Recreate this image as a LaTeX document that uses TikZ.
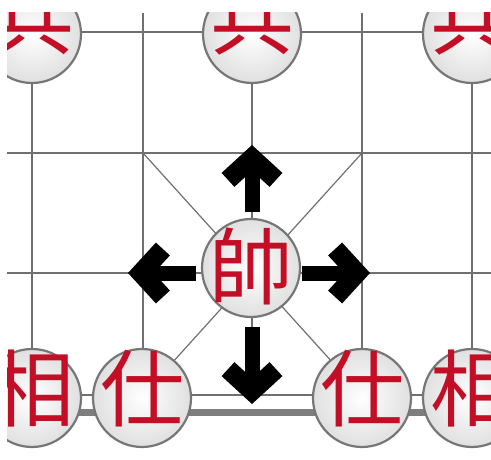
\documentclass[tikz,border=0pt]{standalone}
\usepackage{fontspec}
\newfontfamily\cjk{Noto Sans CJK TC}
\usetikzlibrary{arrows.meta}
\definecolor{gridc}{RGB}{112,112,112}
\definecolor{piecered}{RGB}{196,14,38}
\definecolor{rimc}{RGB}{118,118,118}
\definecolor{piecefill}{RGB}{224,224,224}
\newcommand{\pctext}[2]{\makebox[0pt]{\raisebox{#2}[0pt][0pt]{#1}}}
\begin{document}
\begin{tikzpicture}[x=1pt,y=-1pt,
  piece/.style={circle, minimum size=98pt, inner sep=0pt, draw=rimc, line width=2.2pt,
    inner color=white, outer color=piecefill, text=piecered,
    font=\cjk\fontsize{84}{84}\selectfont},
  gridline/.style={draw=gridc, line width=2pt},
  frameline/.style={draw=gridc!90, line width=7pt},
  palace/.style={draw=gridc, line width=1.2pt},
  mv/.style={line width=15pt, draw=black,
    -{Straight Barb[length=22pt, width=48pt, line width=19pt, line cap=butt, line join=miter]}}
]
\useasboundingbox (0,0) rectangle (491,460);
\clip (7,13) rectangle (491,460);
% grid
\foreach \yy in {32,153,273,395} \draw[gridline] (7,\yy) -- (491,\yy);
\foreach \xx in {32,143,252,362,472} \draw[gridline] (\xx,13) -- (\xx,395);
\draw[frameline] (7,412) -- (491,412);
% palace diagonals
\draw[palace] (143,153) -- (362,395);
\draw[palace] (362,153) -- (143,395);
% arrows
\coordinate (upT) at (252,145);
\coordinate (leftT) at (128,273);
\coordinate (rightT) at (370,273);
\coordinate (downT) at (252,404);
\coordinate (upS) at (252,212);
\coordinate (leftS) at (196,273);
\coordinate (rightS) at (302,273);
\coordinate (downS) at (252,327);
\draw[mv] (upS) -- (upT);
\draw[mv] (leftS) -- (leftT);
\draw[mv] (rightS) -- (rightT);
\draw[mv] (downS) -- (downT);
% pieces
\node[piece] (p1) at (32,34) {\pctext{兵}{-15pt}};
\node[piece] (p2) at (252,34) {\pctext{兵}{-15pt}};
\node[piece] (p3) at (472,34) {\pctext{兵}{-15pt}};
\node[piece] (K) at (251,268) {\pctext{帥}{-31pt}};
\node[piece] (x1) at (32,398) {\pctext{相}{-22pt}};
\node[piece] (a1) at (142,398) {\pctext{仕}{-22pt}};
\node[piece] (a2) at (362,398) {\pctext{仕}{-22pt}};
\node[piece] (x2) at (472,398) {\pctext{相}{-22pt}};
\end{tikzpicture}
\end{document}
